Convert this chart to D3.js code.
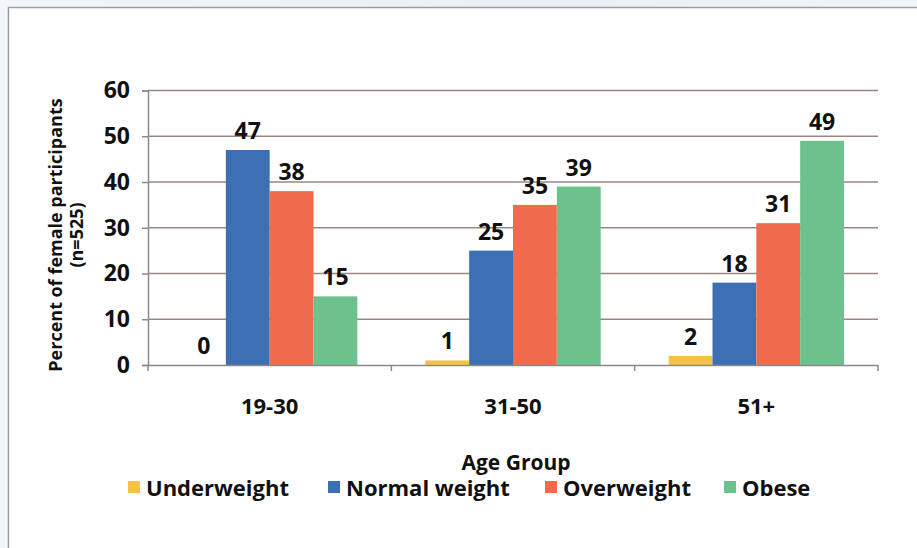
<!DOCTYPE html>
<html><head><meta charset="utf-8">
<script src="https://cdn.jsdelivr.net/npm/d3@7"></script>
<style>
html,body{margin:0;padding:0;background:#fff;}
svg{display:block;}
text{font-family:"Open Sans","Liberation Sans",sans-serif;font-weight:bold;fill:#111;}
</style></head>
<body>
<svg id="chart" width="917" height="548"></svg>
<script>
const categories = ["19-30", "31-50", "51+"];
const seriesNames = ["Underweight", "Normal weight", "Overweight", "Obese"];
const underweight = [0, 1, 2];
const normalWeight = [47, 25, 18];
const overweight = [38, 35, 31];
const obese = [15, 39, 49];
const yTicks = [0, 10, 20, 30, 40, 50, 60];
const colors = ["#f5c342", "#3d6fb3", "#ef6b4c", "#6cc18c"];
const seriesValues = [underweight, normalWeight, overweight, obese];

(function(){
const svg = d3.select("#chart");
const W = 917, H = 548;
const defs = svg.append("defs");
const g0 = defs.append("linearGradient").attr("id","bg").attr("x1",0).attr("x2",1);
g0.append("stop").attr("offset","0%").attr("stop-color","#f4f7fa");
g0.append("stop").attr("offset","60%").attr("stop-color","#e8eff6");
g0.append("stop").attr("offset","100%").attr("stop-color","#f3f6f9");
svg.append("rect").attr("width",W).attr("height",H).attr("fill","url(#bg)");
svg.append("rect").attr("x",8.5).attr("y",7.5).attr("width",W+10).attr("height",H+10)
  .attr("fill","#fff").attr("stroke","#9a9ea4").attr("stroke-width",1.5);

const pLeft = 148, pRight = 878, pTop = 90.5, pBottom = 365;
const x0 = d3.scaleBand().domain(categories).range([pLeft, pRight]).padding(0);
const gap = 34;
const x1 = d3.scaleBand().domain(seriesNames).range([gap, x0.bandwidth() - gap]).padding(0);
const y = d3.scaleLinear().domain([0, 60]).range([pBottom, pTop]);

svg.append("g").selectAll("line").data(yTicks.filter(d => d > 0)).join("line")
  .attr("x1", pLeft).attr("x2", pRight).attr("y1", d => y(d)).attr("y2", d => y(d))
  .attr("stroke", "#9c8780").attr("stroke-width", 1.6);

const yAxis = svg.append("g").attr("transform", `translate(${pLeft},0)`)
  .call(d3.axisLeft(y).tickValues(yTicks).tickSize(6).tickPadding(12));
yAxis.select(".domain").attr("stroke", "#8a8a8a").attr("stroke-width", 1.5);
yAxis.selectAll(".tick line").attr("stroke", "#8a8a8a").attr("stroke-width", 1.5);
yAxis.selectAll("text").style("font-size", "23px").attr("fill", "#111")
  .style("font-family", '"Open Sans",sans-serif').style("font-weight", "bold");

const groups = svg.append("g").selectAll("g").data(categories).join("g")
  .attr("transform", d => `translate(${x0(d)},0)`);
const rows = (c, i) => seriesNames.map((s, j) => ({s, v: seriesValues[j][i], j}));
groups.selectAll("rect").data(rows).join("rect")
  .attr("x", d => x1(d.s)).attr("width", x1.bandwidth())
  .attr("y", d => y(d.v)).attr("height", d => pBottom - y(d.v))
  .attr("fill", d => colors[d.j]);
groups.selectAll("text").data(rows).join("text")
  .attr("x", d => x1(d.s) + x1.bandwidth() / 2).attr("y", d => y(d.v) - 11)
  .attr("text-anchor", "middle").style("font-size", "23px").text(d => d.v);

const xAxis = svg.append("g").attr("transform", `translate(0,${pBottom})`)
  .call(d3.axisBottom(x0).tickSize(0).tickPadding(33));
xAxis.select(".domain").attr("stroke", "#8a8a8a").attr("stroke-width", 1.5);
xAxis.selectAll("text").style("font-size", "22px").attr("fill", "#111")
  .style("font-family", '"Open Sans",sans-serif').style("font-weight", "bold");
svg.append("g").selectAll("line").data(categories.map(c => x0(c)).concat([pRight])).join("line")
  .attr("x1", d => d).attr("x2", d => d).attr("y1", pBottom).attr("y2", pBottom + 6)
  .attr("stroke", "#8a8a8a").attr("stroke-width", 1.5);

svg.append("text").attr("x", 516).attr("y", 470).attr("text-anchor", "middle")
  .style("font-size", "21px").text("Age Group");
const yt = svg.append("text").attr("transform", "translate(62,235) rotate(-90)")
  .attr("text-anchor", "middle").style("font-size", "18px");
yt.append("tspan").attr("x", 0).attr("dy", 0).text("Percent of female participants");
yt.append("tspan").attr("x", 0).attr("dy", 21).text("(n=525)");

const legX = [128, 328, 545, 724];
const leg = svg.append("g").selectAll("g").data(seriesNames).join("g")
  .attr("transform", (d, i) => `translate(${legX[i]},488)`);
leg.append("rect").attr("x", 0).attr("y", -7).attr("width", 12).attr("height", 12)
  .attr("fill", (d, i) => colors[i]);
leg.append("text").attr("x", 18).attr("y", 8).style("font-size", "22px").text(d => d);
})();
</script>
</body></html>
